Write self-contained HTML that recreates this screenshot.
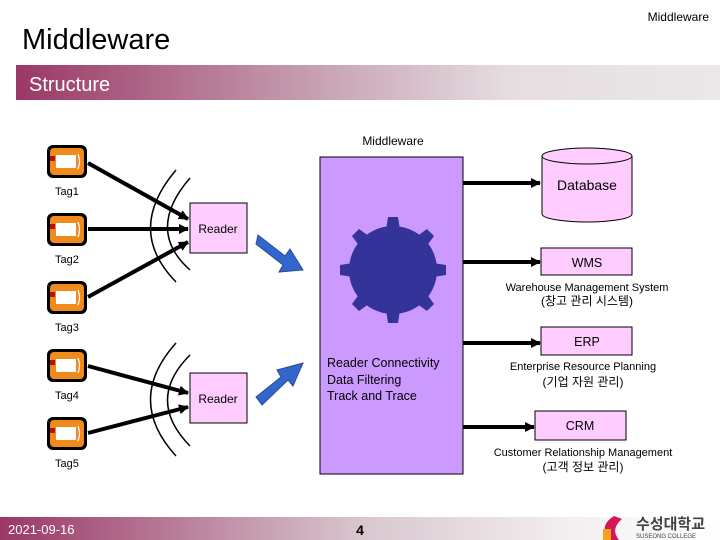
<!DOCTYPE html>
<html><head><meta charset="utf-8"><style>
html,body{margin:0;padding:0;background:#fff}
body{width:720px;height:540px;position:relative;overflow:hidden;font-family:"Liberation Sans","Noto Sans CJK KR",sans-serif}
</style></head><body>
<svg width="720" height="540" viewBox="0 0 720 540" xmlns="http://www.w3.org/2000/svg" style="position:absolute;left:0;top:0">
<defs>
<linearGradient id="hb" x1="0" x2="1" y1="0" y2="0">
<stop offset="0" stop-color="#9a3866"/><stop offset="0.45" stop-color="#c9a6b6"/><stop offset="0.7" stop-color="#e6dde1"/><stop offset="1" stop-color="#ebe8e9"/>
</linearGradient>
<linearGradient id="fb" x1="0" x2="1" y1="0" y2="0">
<stop offset="0" stop-color="#9a3866"/><stop offset="0.5" stop-color="#d8c6ce"/><stop offset="0.8" stop-color="#f4f0f2"/><stop offset="1" stop-color="#ffffff"/>
</linearGradient>
<marker id="ah" markerWidth="10" markerHeight="10" refX="9" refY="5" orient="auto" markerUnits="userSpaceOnUse"><path d="M0,0 L10,5 L0,10 z" fill="#000"/></marker>
<g id="tag">
<rect x="0" y="0" width="40" height="33" rx="6" fill="#000"/>
<rect x="3" y="3" width="34" height="27" rx="4" fill="#f08a1c"/>
<rect x="9" y="10" width="20" height="13" fill="#fff"/>
<path d="M31,9 Q34,16.5 31,24" stroke="#fff" fill="none" stroke-width="1.2"/>
<rect x="3" y="11" width="5" height="5" fill="#b01010"/>
</g>
</defs>
<text x="709" y="21" font-size="12" text-anchor="end" fill="#000">Middleware</text>
<text x="22" y="49" font-size="29" fill="#000">Middleware</text>
<rect x="16" y="65" width="704" height="35" fill="url(#hb)"/>
<text x="29" y="91" font-size="20" fill="#fff">Structure</text>

<use href="#tag" x="47" y="145"/>
<use href="#tag" x="47" y="213"/>
<use href="#tag" x="47" y="281"/>
<use href="#tag" x="47" y="349"/>
<use href="#tag" x="47" y="417"/>
<g font-size="11" fill="#000">
<text x="55" y="195">Tag1</text><text x="55" y="263">Tag2</text><text x="55" y="331">Tag3</text><text x="55" y="399">Tag4</text><text x="55" y="467">Tag5</text>
</g>
<g stroke="#000" stroke-width="4" fill="none" marker-end="url(#ah)">
<line x1="88" y1="163" x2="188" y2="219"/>
<line x1="88" y1="229" x2="188" y2="229"/>
<line x1="88" y1="297" x2="188" y2="242"/>
<line x1="88" y1="366" x2="188" y2="393"/>
<line x1="88" y1="433" x2="188" y2="407"/>
</g>
<g stroke="#000" stroke-width="1.5" fill="none">
<path d="M176,170 Q125,230 176,282"/><path d="M190,178 Q145,230 190,270"/>
<path d="M176,343 Q125,400 176,456"/><path d="M190,355 Q145,400 190,446"/>
</g>
<rect x="190" y="203" width="57" height="50" fill="#ffccff" stroke="#000" stroke-width="1"/>
<text x="218" y="233" font-size="12" text-anchor="middle">Reader</text>
<rect x="190" y="373" width="57" height="50" fill="#ffccff" stroke="#000" stroke-width="1"/>
<text x="218" y="403" font-size="12" text-anchor="middle">Reader</text>
<polygon points="258,235 285,256 290,249 303,270 279,272 283,265 256,244" fill="#3366cc" stroke="#2a4d99" stroke-width="1"/>
<polygon points="256,397 281,377 277,370 303,363 293,386 288,380 262,405" fill="#3366cc" stroke="#2a4d99" stroke-width="1"/>

<text x="393" y="145" font-size="12" text-anchor="middle">Middleware</text>
<rect x="320" y="157" width="143" height="317" fill="#cc99ff" stroke="#000" stroke-width="1"/>
<g fill="#333399" transform="translate(393,270)">
<circle r="44"/>
<g id="tt"><polygon points="-7,-40 -5,-53 5,-53 7,-40"/></g>
<use href="#tt" transform="rotate(45)"/><use href="#tt" transform="rotate(90)"/><use href="#tt" transform="rotate(135)"/>
<use href="#tt" transform="rotate(180)"/><use href="#tt" transform="rotate(225)"/><use href="#tt" transform="rotate(270)"/><use href="#tt" transform="rotate(315)"/>
</g>
<g font-size="12.5" fill="#000">
<text x="327" y="367">Reader Connectivity</text>
<text x="327" y="384">Data Filtering</text>
<text x="327" y="400">Track and Trace</text>
</g>
<g stroke="#000" stroke-width="4" marker-end="url(#ah)">
<line x1="463" y1="183" x2="540" y2="183"/>
<line x1="463" y1="262" x2="540" y2="262"/>
<line x1="463" y1="343" x2="540" y2="343"/>
<line x1="463" y1="427" x2="534" y2="427"/>
</g>
<path d="M542,156 L542,214 A45,8 0 0 0 632,214 L632,156" fill="#ffccff" stroke="#000"/>
<ellipse cx="587" cy="156" rx="45" ry="8" fill="#ffccff" stroke="#000"/>
<text x="587" y="190" font-size="14" text-anchor="middle">Database</text>
<rect x="541" y="248" width="91" height="27" fill="#ffccff" stroke="#000"/>
<text x="587" y="267" font-size="12.5" text-anchor="middle">WMS</text>
<text x="587" y="291" font-size="11" text-anchor="middle">Warehouse Management System</text>
<text x="587" y="305" font-size="12" text-anchor="middle">(창고 관리 시스템)</text>
<rect x="541" y="327" width="91" height="28" fill="#ffccff" stroke="#000"/>
<text x="587" y="346" font-size="12.5" text-anchor="middle">ERP</text>
<text x="583" y="370" font-size="11" text-anchor="middle">Enterprise Resource Planning</text>
<text x="583" y="386" font-size="12" text-anchor="middle">(기업 자원 관리)</text>
<rect x="535" y="411" width="91" height="29" fill="#ffccff" stroke="#000"/>
<text x="580" y="430" font-size="12.5" text-anchor="middle">CRM</text>
<text x="583" y="456" font-size="11" text-anchor="middle">Customer Relationship Management</text>
<text x="583" y="471" font-size="12" text-anchor="middle">(고객 정보 관리)</text>

<rect x="0" y="517" width="720" height="23" fill="url(#fb)"/>
<text x="8" y="534" font-size="13" fill="#fff">2021-09-16</text>
<text x="360" y="535" font-size="14" font-weight="bold" text-anchor="middle">4</text>
<path d="M614,516 Q597,527 611,540 L619,540 Q610,529 622,519 z" fill="#d8145a"/>
<rect x="603" y="529" width="8" height="11" fill="#f7a21b"/>
<text x="636" y="529" font-size="15" font-weight="bold" fill="#444">수성대학교</text>
<text x="636" y="538" font-size="6" fill="#444">SUSEONG COLLEGE</text>
</svg>
</body></html>
